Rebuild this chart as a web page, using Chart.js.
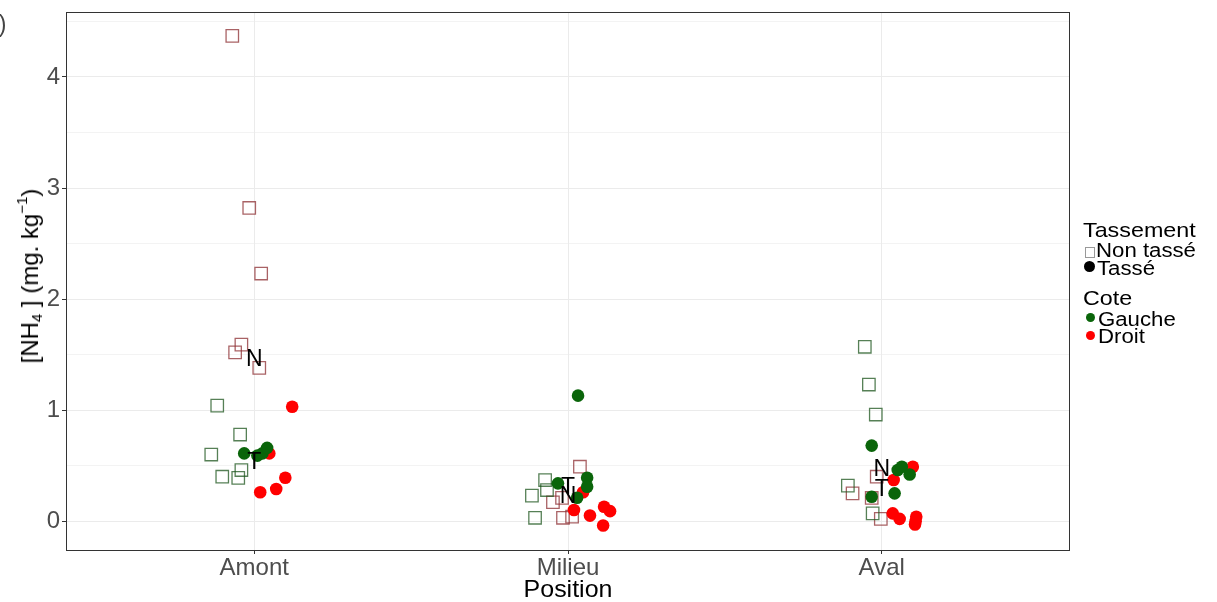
<!DOCTYPE html>
<html>
<head>
<meta charset="utf-8">
<script src="https://cdn.jsdelivr.net/npm/chart.js@4/dist/chart.umd.min.js"></script>
<style>
  body { margin: 0; background: #fff; overflow: hidden; }
  #wrap { position: relative; width: 1217px; height: 602px; font-family: "Liberation Sans", Arial, sans-serif; }
  canvas { position: absolute; left: 0; top: 0; }
  .txt { position: absolute; line-height: 1; white-space: nowrap; color: #000; }
  .leg { transform: scaleX(1.11); transform-origin: 0 0; }
  .sym { position: absolute; }
</style>
</head>
<body>
<div id="wrap">
  <canvas id="c" width="1217" height="602"></canvas>
  <div class="txt" style="left:-14px;top:13px;font-size:23px;color:#444">b)</div>
  <div class="txt" id="ytitle" style="left:29px;top:276px;font-size:24px;transform:translate(-50%,-50%) rotate(-90deg);">[NH<sub style="font-size:15px;vertical-align:-4px">4</sub> ] (mg. kg<sup style="font-size:15px;vertical-align:11px">−1</sup>)</div>
  <div class="txt" style="left:568px;top:577px;font-size:24px;transform:translateX(-50%) scaleX(1.04)">Position</div>

  <div class="txt leg" style="left:1083px;top:219px;font-size:21px">Tassement</div>
  <div class="sym" style="left:1085px;top:247px;width:8px;height:9px;border:1px solid #999"></div>
  <div class="txt leg" style="left:1096px;top:240px;font-size:20px">Non tassé</div>
  <div class="sym" style="left:1084px;top:261px;width:11px;height:11px;border-radius:50%;background:#000"></div>
  <div class="txt leg" style="left:1097px;top:258px;font-size:20px">Tassé</div>
  <div class="txt leg" style="left:1083px;top:287px;font-size:21px">Cote</div>
  <div class="sym" style="left:1086px;top:313px;width:9px;height:9px;border-radius:50%;background:#0a650a"></div>
  <div class="txt leg" style="left:1098px;top:309px;font-size:20px">Gauche</div>
  <div class="sym" style="left:1086px;top:331px;width:9px;height:9px;border-radius:50%;background:#f00"></div>
  <div class="txt leg" style="left:1098px;top:326px;font-size:20px">Droit</div>
</div>
<script>
// categories on the x axis (positions 1, 2, 3)
const positions = ['Amont', 'Milieu', 'Aval'];
const yTicks = [0, 1, 2, 3, 4];

// Tassé, cote gauche (filled green circles): jittered position, value
const tasseGaucheX = [0.968, 1.010, 1.026, 1.041, 2.032, 2.061, 2.061, 1.968, 2.029, 2.968, 3.051, 3.064, 3.089, 3.041, 2.968];
const tasseGaucheY = [0.61, 0.59, 0.61, 0.66, 1.13, 0.39, 0.31, 0.34, 0.21, 0.68, 0.46, 0.49, 0.42, 0.25, 0.22];

// Tassé, cote droit (filled red circles)
const tasseDroitX = [1.048, 1.121, 1.019, 1.070, 1.099, 2.048, 2.019, 2.070, 2.115, 2.134, 2.112, 3.099, 3.038, 3.035, 3.057, 3.108, 3.110, 3.106];
const tasseDroitY = [0.61, 1.03, 0.26, 0.29, 0.39, 0.26, 0.10, 0.05, 0.13, 0.09, -0.04, 0.49, 0.37, 0.07, 0.02, 0.00, 0.04, -0.03];

// Non tassé, cote gauche (open green squares)
const nonTasseGaucheX = [0.882, 0.955, 0.863, 0.898, 0.949, 0.959, 1.885, 1.927, 1.933, 1.895, 2.946, 2.959, 2.981, 2.892, 2.971];
const nonTasseGaucheY = [1.04, 0.78, 0.60, 0.40, 0.39, 0.46, 0.23, 0.37, 0.28, 0.03, 1.57, 1.23, 0.96, 0.32, 0.07];

// Non tassé, cote droit (open red squares)
const nonTasseDroitX = [0.930, 0.984, 1.022, 0.959, 0.939, 1.016, 2.038, 1.952, 1.981, 1.984, 2.013, 2.907, 2.968, 2.997, 2.984];
const nonTasseDroitY = [4.37, 2.82, 2.23, 1.59, 1.52, 1.38, 0.49, 0.17, 0.21, 0.03, 0.04, 0.25, 0.21, 0.02, 0.40];

// group labels (N = non tassé, T = tassé)
const labelText = ['N', 'T', 'N', 'T', 'N', 'T'];
const labelX = [1, 1, 2, 2, 3, 3];
const labelY = [1.45, 0.53, 0.22, 0.30, 0.46, 0.28];

function pts(xs, ys) {
  return xs.map((x, i) => ({x: x, y: ys[i]}));
}

const panelPlugin = {
  id: 'panel',
  afterDatasetsDraw(chart) {
    const ctx = chart.ctx, xs = chart.scales.x, ys = chart.scales.y;
    ctx.save();
    ctx.fillStyle = '#000';
    ctx.font = '23px "Liberation Sans", Arial, sans-serif';
    ctx.textAlign = 'center';
    ctx.textBaseline = 'middle';
    labelText.forEach((t, i) => {
      ctx.fillText(t, xs.getPixelForValue(labelX[i]), ys.getPixelForValue(labelY[i]));
    });
    const a = chart.chartArea;
    ctx.strokeStyle = '#333333';
    ctx.lineWidth = 1;
    ctx.strokeRect(Math.round(a.left) + 0.5, Math.round(a.top) + 0.5,
                   Math.round(a.right - a.left) - 1, Math.round(a.bottom - a.top));
    ctx.restore();
  }
};

new Chart(document.getElementById('c'), {
  type: 'scatter',
  data: {
    datasets: [
      {
        label: 'Tassé - Gauche',
        data: pts(tasseGaucheX, tasseGaucheY),
        pointStyle: 'circle',
        pointRadius: 6.3,
        backgroundColor: '#0a650a',
        borderColor: '#0a650a',
        borderWidth: 0
      },
      {
        label: 'Tassé - Droit',
        data: pts(tasseDroitX, tasseDroitY),
        pointStyle: 'circle',
        pointRadius: 6.3,
        backgroundColor: '#ff0000',
        borderColor: '#ff0000',
        borderWidth: 0
      },
      {
        label: 'Non tassé - Gauche',
        data: pts(nonTasseGaucheX, nonTasseGaucheY),
        pointStyle: 'rect',
        pointRadius: 8.8,
        backgroundColor: 'rgba(0,0,0,0)',
        borderColor: 'rgba(30,85,30,0.75)',
        borderWidth: 1.3
      },
      {
        label: 'Non tassé - Droit',
        data: pts(nonTasseDroitX, nonTasseDroitY),
        pointStyle: 'rect',
        pointRadius: 8.8,
        backgroundColor: 'rgba(0,0,0,0)',
        borderColor: 'rgba(140,45,50,0.75)',
        borderWidth: 1.3
      }
    ]
  },
  options: {
    responsive: false,
    animation: false,
    devicePixelRatio: 1,
    layout: { padding: { left: 0, right: 147, top: 12, bottom: 0 } },
    plugins: { legend: { display: false }, tooltip: { enabled: false } },
    scales: {
      x: {
        type: 'linear',
        min: 0.4,
        max: 3.6,
        afterFit(s) { s.height = 52; s.paddingLeft = 0; s.paddingRight = 0; },
        ticks: {
          stepSize: 1,
          includeBounds: false,
          autoSkip: false,
          maxRotation: 0,
          padding: 0,
          color: '#4d4d4d',
          font: { family: '"Liberation Sans", Arial, sans-serif', size: 24 },
          callback: v => positions[v - 1] || ''
        },
        grid: { color: '#ebebeb', lineWidth: 1, tickLength: 4, tickColor: '#333333' },
        border: { display: false }
      },
      y: {
        type: 'linear',
        min: -0.26,
        max: 4.585,
        afterFit(s) { s.width = 66; s.paddingTop = 0; s.paddingBottom = 0; },
        ticks: {
          stepSize: 0.5,
          includeBounds: false,
          autoSkip: false,
          padding: 2,
          color: '#4d4d4d',
          font: { family: '"Liberation Sans", Arial, sans-serif', size: 24 },
          callback: v => yTicks.includes(v) ? String(v) : ''
        },
        grid: {
          color: '#ebebeb',
          lineWidth: c => (c.tick && Number.isInteger(c.tick.value)) ? 1 : 0.6,
          tickLength: 4,
          tickColor: c => (c.tick && Number.isInteger(c.tick.value)) ? '#333333' : 'rgba(0,0,0,0)'
        },
        border: { display: false }
      }
    }
  },
  plugins: [panelPlugin]
});
</script>
</body>
</html>
